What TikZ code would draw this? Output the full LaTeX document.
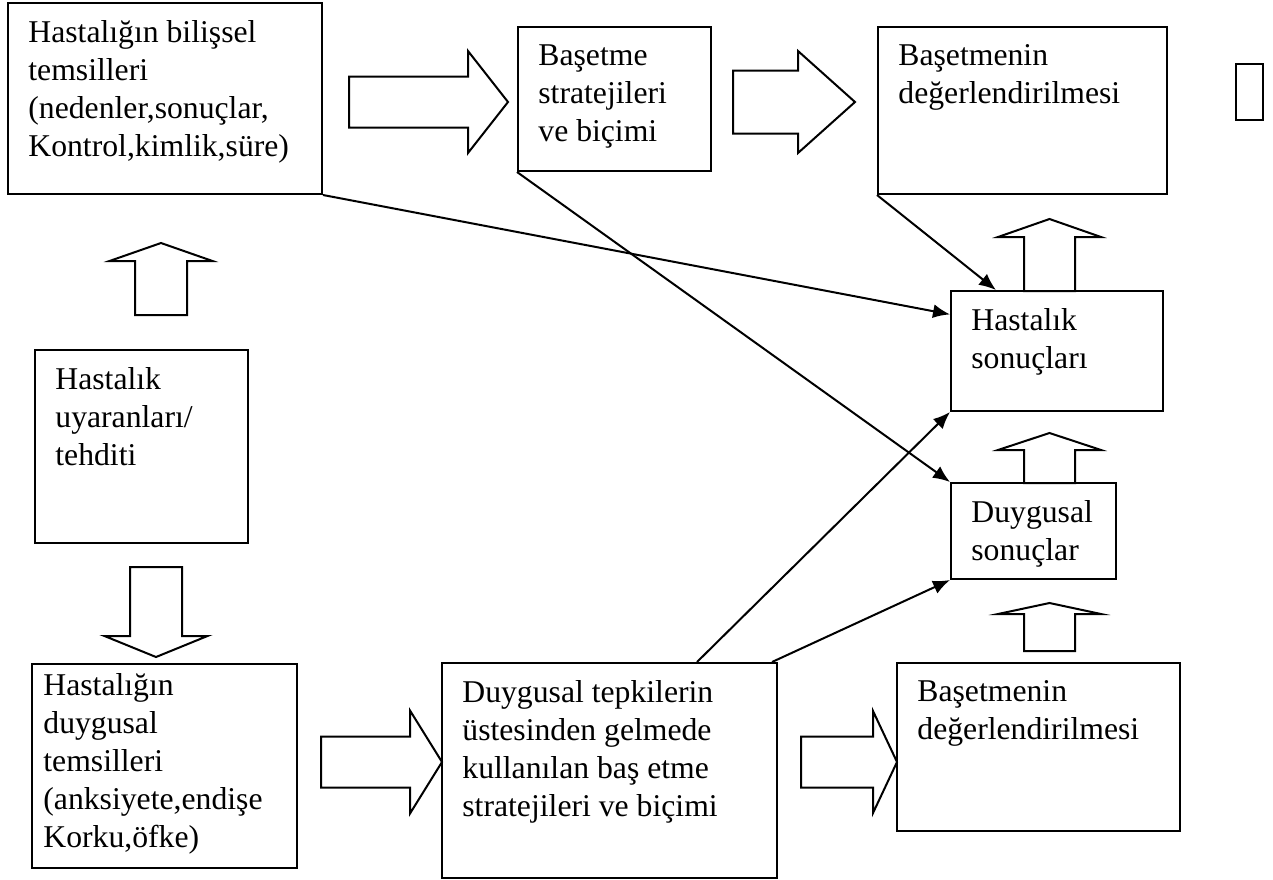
\documentclass[tikz,border=0pt]{standalone}
\usepackage{fontspec}
\setmainfont{Liberation Serif}
\usetikzlibrary{arrows.meta,calc,fit}
\newcommand{\mkbox}[7][21,18]{% #1: text offset, #2: name, #3: x1, #4: y1, #5: x2, #6: y2, #7: text
	\node[box,fit={(#3,#4) (#5,#6)}] (#2) {};
	\node[txt] (#2-t) at ($(#2.north west)+(#1)$) {#7};
}
\newcommand{\rarr}[6]{% #1: x left, #2: x head, #3: x tip, #4: y mid, #5: shaft half, #6: head half
	\draw[blk] (#1,#4-#5) -- (#2,#4-#5) -- (#2,#4-#6) -- (#3,#4) -- (#2,#4+#6) -- (#2,#4+#5) -- (#1,#4+#5) -- cycle;
}
\newcommand{\varr}[6]{% #1: x mid, #2: y base, #3: y head, #4: y tip, #5: shaft half, #6: head half
	\draw[blk] (#1-#5,#2) -- (#1-#5,#3) -- (#1-#6,#3) -- (#1,#4) -- (#1+#6,#3) -- (#1+#5,#3) -- (#1+#5,#2) -- cycle;
}

\begin{document}
\begin{tikzpicture}[x=0.5pt,y=-0.5pt,
	box/.style={draw,line width=1pt,inner sep=0pt},
	txt/.style={font=\fontsize{15.85}{19}\selectfont,align=left,inner sep=0pt,anchor=north west},
	blk/.style={line width=1pt,line join=miter},
	con/.style={line width=1pt,-{Latex[length=8.5pt,width=7pt]}}]
	\useasboundingbox (0,0) rectangle (1273,879);
	
	% Making boxes
	\mkbox{cog}{8}{3}{322}{194}{Hastalığın bilişsel\\temsilleri\\(nedenler,sonuçlar,\\Kontrol,kimlik,süre)}
	\mkbox{cope}{518}{27}{711}{171}{Başetme\\stratejileri\\ve biçimi}
	\mkbox{appr}{878}{27}{1167}{194}{Başetmenin\\değerlendirilmesi}
	\node[box,fit={(1236,64) (1263,120)}] (blank) {};
	\mkbox{stim}{35}{350}{248}{543}{Hastalık\\uyaranları/\\tehditi}
	\mkbox{hs}{951}{291}{1163}{411}{Hastalık\\sonuçları}
	\mkbox{ds}{951}{483}{1116}{579}{Duygusal\\sonuçlar}
	\mkbox[12,10]{emo}{32}{664}{297}{868}{Hastalığın\\duygusal\\temsilleri\\(anksiyete,endişe\\Korku,öfke)}
	\mkbox{react}{442}{663}{777}{878}{Duygusal tepkilerin\\üstesinden gelmede\\kullanılan baş etme\\stratejileri ve biçimi}
	\mkbox{appr2}{897}{663}{1180}{831}{Başetmenin\\değerlendirilmesi}
	
	% Block arrows
	\rarr{349}{468}{508}{102}{25.5}{51}
	\rarr{733}{798}{855}{102}{31.5}{51}
	\rarr{321}{410}{442}{762}{25.5}{51.5}
	\rarr{801}{873}{897}{762}{25.5}{51}
	\varr{161}{315}{261}{243}{26}{51.5}
	\varr{156}{567}{636}{657}{26}{51.5}
	\varr{1049.5}{651}{614}{603}{25.5}{51.5}
	\varr{1049.5}{483}{450}{433}{25.5}{51.5}
	\varr{1049.5}{291}{237}{219}{25.5}{51.5}
	
	% Connectors
	\draw[con] (cog.south east) -- ($(hs.north west)!0.2!(hs.south west)$);
	\draw[con] (cope.south west) -- (ds.north west);
	\draw[con] (appr.south west) -- ($(hs.north west)+(46,0)$);
	\draw[con] ($(react.north west)+(256,0)$) -- (hs.south west);
	\draw[con] ($(react.north east)+(-6,0)$) -- (ds.south west);
\end{tikzpicture}
\end{document}
